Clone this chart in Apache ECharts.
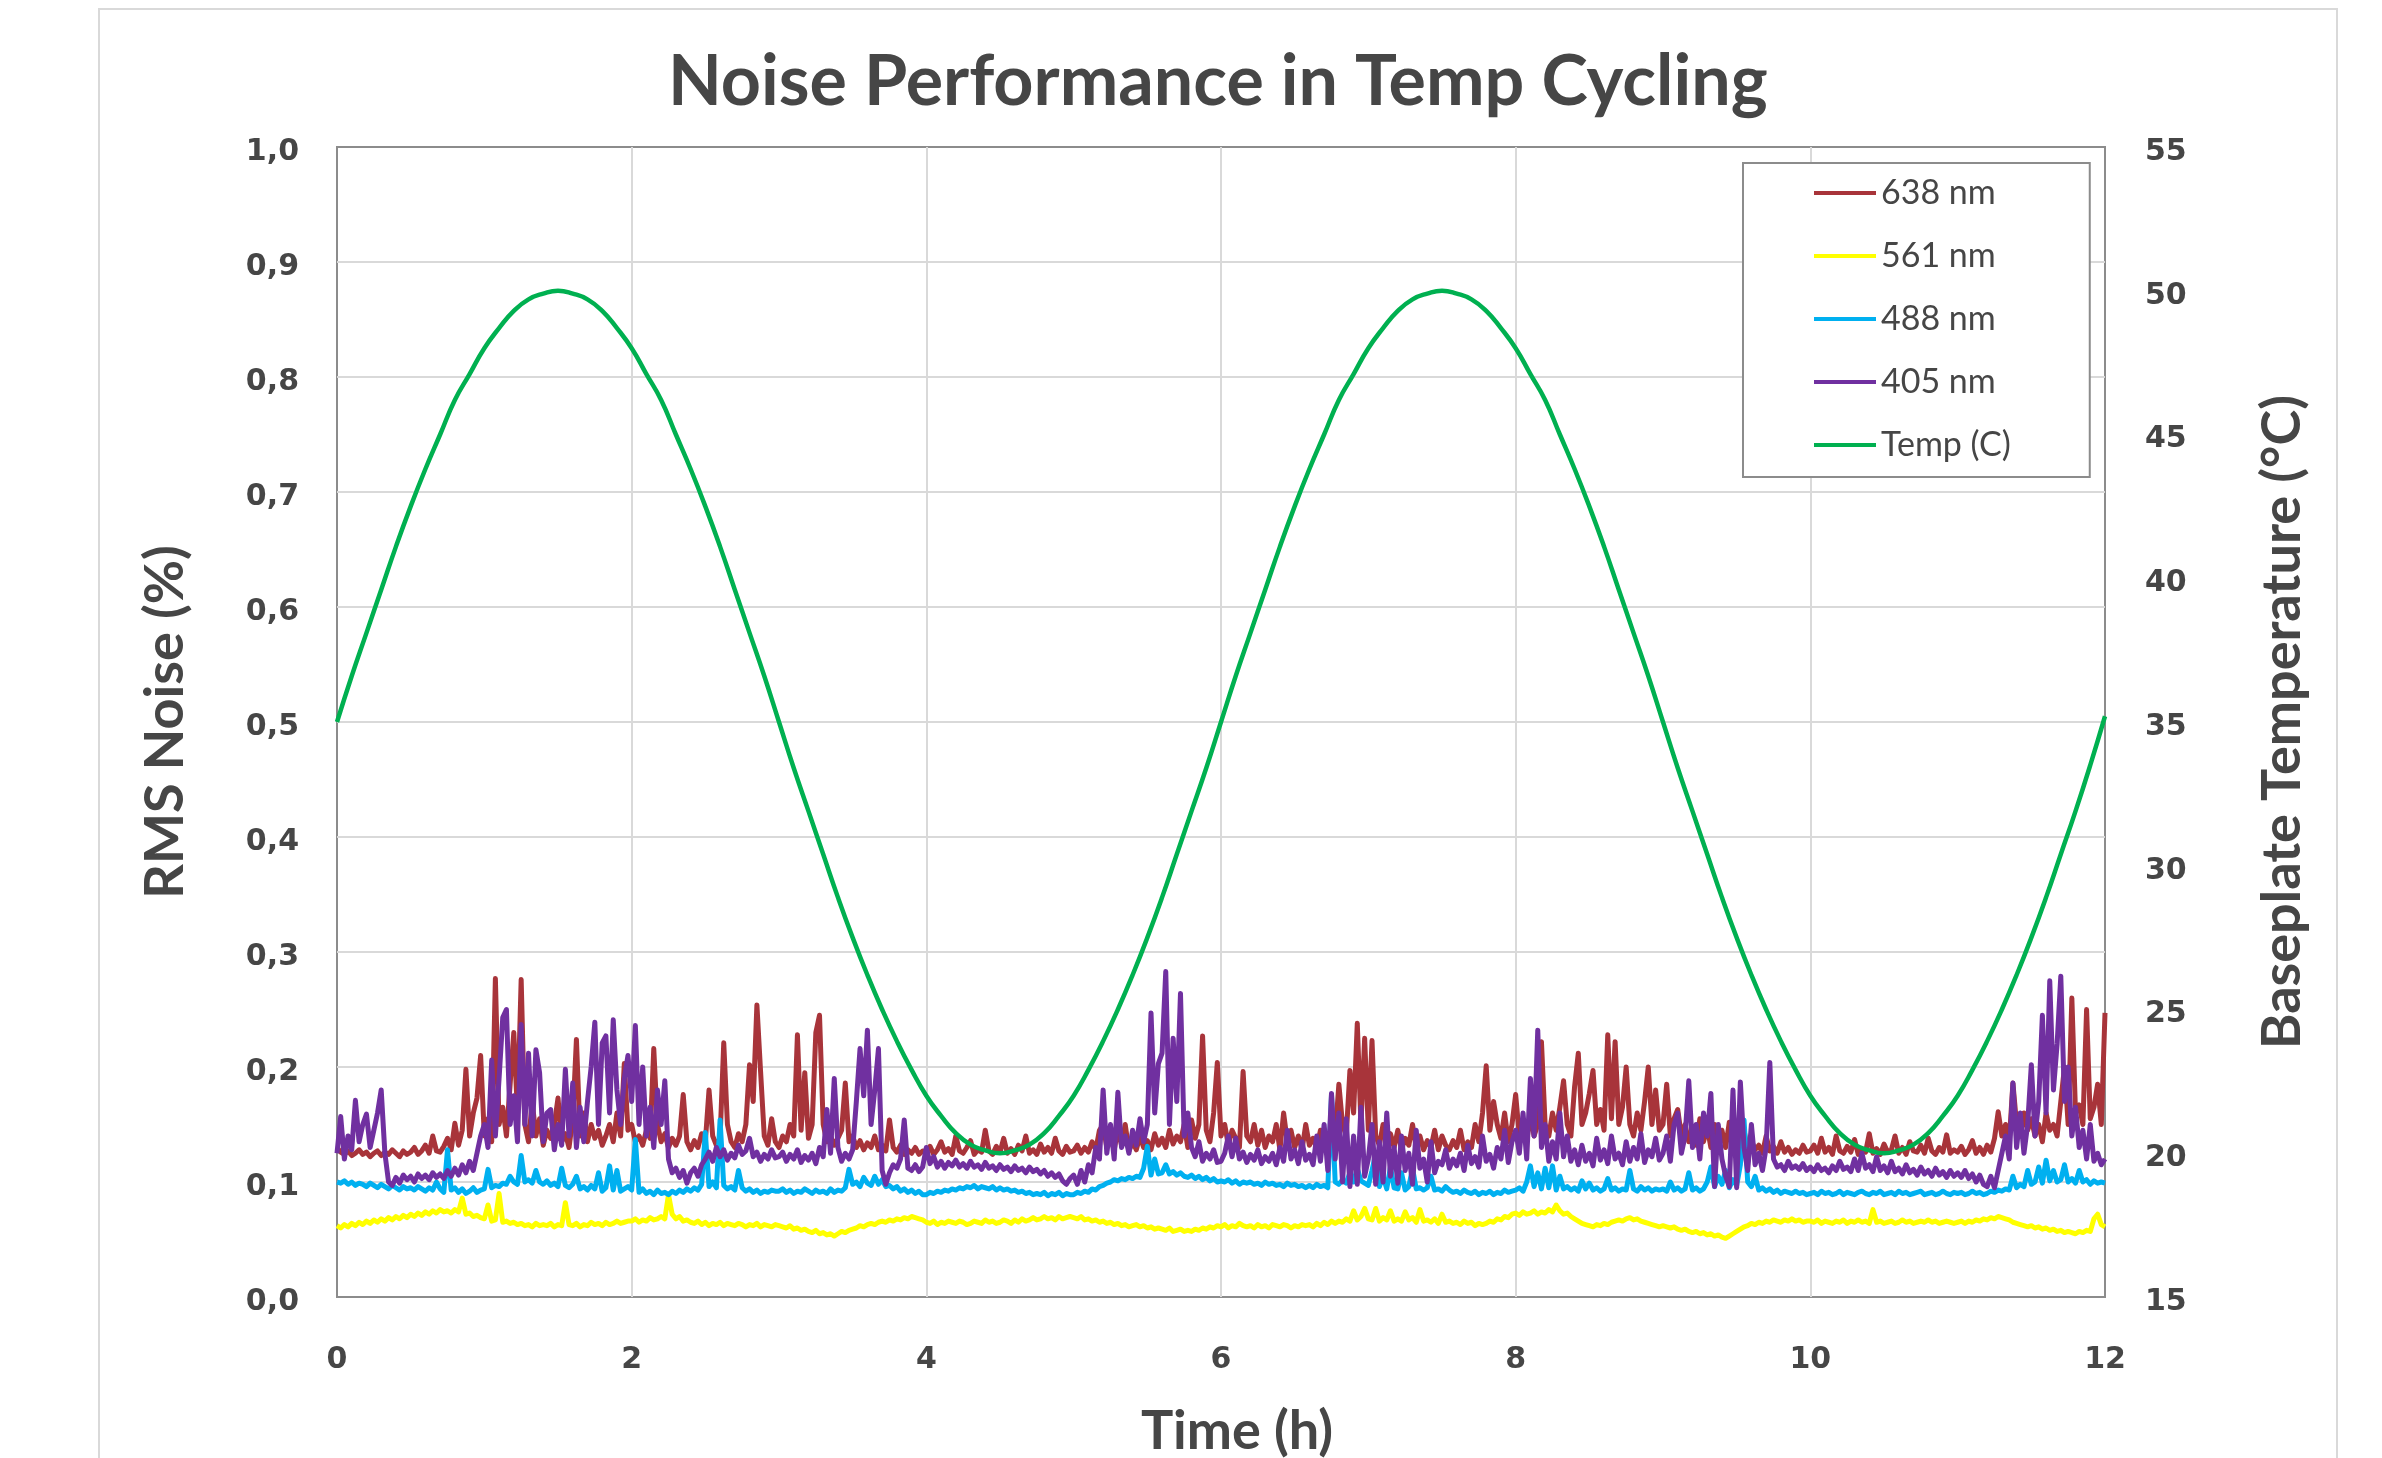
<!DOCTYPE html>
<html><head><meta charset="utf-8">
<script src="https://cdn.jsdelivr.net/npm/echarts@6/dist/echarts.min.js"></script>
<style>html,body{margin:0;padding:0;background:#fff}#c{width:2382px;height:1458px}</style>
</head><body><div id="c"></div><script>
// ---------- DATA ----------
const seriesNames = ['638 nm', '561 nm', '488 nm', '405 nm', 'Temp (C)'];
const noiseStepH = 0.025;   // sample spacing of noise traces (hours)
const tempStepH = 0.1;      // sample spacing of temperature trace (hours)
const xTickLabels = ['0', '2', '4', '6', '8', '10', '12'];
const leftTickLabels = ['0,0','0,1','0,2','0,3','0,4','0,5','0,6','0,7','0,8','0,9','1,0'];
const rightTickLabels = ['15','20','25','30','35','40','45','50','55'];

const noise638 = [
.130,.126,.124,.127,.123,.125,.128,.124,.126,.122,.125,.127,.123,.126,.124,.128,.125,.122,.127,.124,.126,.130,.124,.127,.132,.125,.140,.127,.126,.131,.138,.128,.151,.132,.145,.198,.140,.160,.173,.210,
.140,.155,.135,.277,.150,.165,.140,.185,.230,.160,.276,.150,.135,.170,.140,.155,.132,.145,.138,.150,.173,.135,.142,.130,.155,.224,.140,.160,.135,.150,.138,.145,.132,.140,.150,.135,.160,.140,.203,.145,
.150,.135,.140,.132,.145,.138,.216,.150,.135,.142,.130,.138,.132,.140,.176,.135,.128,.136,.130,.142,.135,.180,.140,.132,.138,.221,.150,.135,.130,.142,.135,.150,.202,.170,.254,.196,.140,.132,.155,.135,
.130,.140,.135,.150,.140,.228,.145,.195,.138,.150,.230,.245,.150,.135,.140,.132,.138,.145,.186,.135,.140,.130,.136,.128,.134,.130,.140,.128,.132,.127,.154,.130,.126,.132,.124,.128,.125,.130,.124,.127,
.126,.131,.124,.128,.135,.126,.129,.124,.140,.127,.125,.130,.136,.124,.128,.126,.145,.127,.124,.131,.126,.138,.125,.129,.124,.132,.127,.140,.125,.128,.124,.133,.126,.130,.125,.138,.127,.124,.131,.126,
.127,.132,.125,.130,.126,.135,.128,.145,.150,.130,.138,.128,.146,.132,.150,.127,.135,.128,.140,.130,.136,.128,.142,.132,.138,.130,.145,.133,.140,.135,.150,.130,.154,.138,.150,.227,.145,.135,.160,.204,
.140,.150,.132,.145,.138,.130,.196,.140,.135,.150,.132,.145,.130,.140,.135,.150,.128,.160,.135,.145,.130,.140,.128,.150,.132,.138,.130,.145,.135,.128,.150,.140,.185,.150,.140,.197,.160,.238,.150,.225,
.145,.223,.140,.132,.150,.135,.142,.130,.145,.128,.138,.132,.150,.130,.140,.128,.136,.130,.145,.128,.140,.132,.128,.136,.130,.145,.128,.135,.130,.150,.135,.160,.201,.145,.170,.150,.138,.160,.135,.150,
.176,.140,.150,.135,.160,.140,.150,.222,.150,.140,.160,.145,.165,.188,.150,.140,.183,.212,.150,.160,.177,.197,.150,.163,.145,.228,.155,.222,.150,.165,.200,.150,.140,.160,.145,.170,.200,.150,.180,.145,
.150,.185,.140,.155,.163,.140,.150,.135,.145,.132,.155,.135,.148,.130,.150,.135,.145,.130,.152,.128,.140,.130,.145,.127,.136,.128,.132,.125,.140,.127,.131,.125,.135,.126,.130,.124,.128,.125,.132,.126,
.127,.132,.125,.138,.126,.130,.124,.140,.127,.125,.131,.126,.137,.124,.128,.126,.142,.125,.129,.124,.133,.126,.128,.140,.125,.130,.124,.135,.127,.126,.132,.125,.138,.127,.124,.130,.126,.141,.125,.128,
.126,.131,.124,.128,.136,.125,.130,.124,.132,.126,.138,.161,.140,.150,.135,.186,.150,.140,.160,.145,.155,.140,.150,.135,.160,.145,.150,.140,.170,.200,.150,.260,.160,.167,.150,.250,.155,.165,.185,.150,
.247];

const noise561 = [
.062,.060,.063,.061,.064,.062,.065,.063,.066,.064,.067,.065,.068,.066,.069,.067,.070,.068,.071,.069,.072,.070,.073,.071,.074,.072,.075,.073,.076,.074,.075,.073,.076,.074,.086,.072,.073,.070,.071,.069,
.068,.080,.066,.067,.090,.065,.066,.064,.065,.063,.064,.062,.063,.061,.064,.062,.063,.062,.064,.061,.063,.062,.082,.063,.062,.064,.061,.063,.062,.065,.063,.064,.062,.065,.063,.064,.066,.064,.065,.066,
.066,.068,.065,.067,.066,.069,.067,.068,.070,.068,.089,.072,.068,.070,.066,.067,.065,.064,.066,.063,.065,.062,.064,.063,.065,.062,.064,.063,.062,.064,.063,.061,.063,.062,.064,.061,.063,.062,.061,.063,
.062,.061,.060,.062,.059,.060,.058,.059,.057,.056,.058,.055,.056,.054,.055,.053,.055,.057,.056,.058,.059,.060,.062,.061,.063,.064,.063,.065,.066,.065,.067,.066,.068,.067,.069,.068,.070,.069,.068,.067,
.065,.064,.066,.063,.065,.064,.066,.065,.064,.066,.065,.063,.064,.066,.065,.064,.067,.065,.066,.064,.065,.067,.066,.064,.067,.065,.068,.066,.067,.069,.067,.068,.070,.068,.069,.067,.070,.068,.069,.070,
.069,.068,.070,.067,.068,.066,.067,.065,.066,.064,.065,.063,.064,.062,.063,.061,.062,.063,.061,.062,.060,.061,.059,.060,.059,.058,.060,.057,.058,.059,.057,.058,.057,.059,.058,.060,.059,.061,.060,.062,
.061,.063,.060,.062,.061,.064,.062,.061,.062,.060,.063,.061,.062,.060,.063,.062,.061,.063,.062,.060,.062,.061,.063,.062,.063,.061,.064,.062,.065,.063,.066,.064,.066,.065,.068,.066,.075,.067,.070,.077,
.068,.067,.077,.066,.069,.067,.075,.066,.068,.066,.074,.067,.069,.065,.076,.066,.067,.065,.068,.064,.072,.065,.066,.064,.065,.063,.066,.064,.065,.062,.064,.063,.064,.066,.065,.068,.067,.070,.069,.072,
.073,.071,.074,.072,.073,.075,.072,.074,.073,.076,.074,.080,.075,.072,.073,.070,.068,.066,.064,.063,.062,.061,.063,.062,.064,.063,.065,.066,.067,.066,.068,.069,.067,.068,.066,.065,.064,.063,.062,.061,
.062,.061,.060,.061,.059,.058,.059,.057,.056,.057,.055,.056,.054,.055,.053,.054,.052,.051,.053,.055,.057,.059,.061,.062,.064,.063,.065,.064,.066,.065,.067,.066,.065,.067,.066,.068,.066,.067,.065,.066,
.066,.065,.067,.064,.066,.065,.064,.066,.065,.067,.064,.066,.065,.067,.065,.066,.064,.076,.065,.066,.064,.065,.066,.064,.065,.067,.065,.066,.064,.065,.066,.065,.067,.065,.066,.064,.065,.066,.065,.064,
.065,.066,.064,.066,.065,.067,.066,.068,.067,.069,.068,.070,.069,.068,.067,.065,.064,.063,.062,.061,.062,.060,.061,.059,.060,.058,.059,.057,.058,.056,.057,.056,.055,.057,.056,.058,.057,.068,.072,.063,
.061];

const noise488 = [
.100,.099,.101,.098,.100,.097,.099,.098,.096,.099,.097,.095,.098,.096,.094,.097,.095,.093,.096,.094,.095,.093,.096,.094,.092,.095,.093,.100,.094,.091,.128,.093,.095,.091,.094,.090,.092,.095,.091,.093,
.094,.111,.095,.097,.096,.099,.098,.105,.100,.098,.123,.100,.102,.099,.110,.100,.098,.101,.097,.099,.096,.112,.097,.095,.098,.105,.094,.096,.093,.097,.094,.108,.092,.095,.114,.093,.110,.092,.094,.096,
.093,.137,.091,.094,.090,.092,.089,.093,.090,.091,.089,.092,.090,.093,.091,.094,.092,.095,.093,.098,.143,.096,.100,.095,.154,.097,.094,.096,.093,.110,.095,.092,.094,.091,.093,.090,.092,.091,.093,.092,
.092,.094,.091,.093,.090,.092,.091,.094,.092,.090,.093,.091,.092,.090,.094,.091,.093,.092,.095,.111,.098,.100,.096,.104,.099,.097,.105,.098,.102,.096,.097,.094,.096,.092,.094,.091,.093,.090,.092,.089,
.089,.091,.090,.092,.091,.093,.092,.094,.093,.095,.094,.096,.095,.097,.094,.096,.095,.094,.096,.093,.095,.093,.094,.092,.093,.091,.092,.090,.091,.089,.090,.089,.091,.088,.090,.089,.091,.088,.090,.089,
.089,.091,.090,.092,.091,.094,.093,.096,.097,.099,.100,.102,.101,.103,.102,.104,.103,.105,.104,.112,.131,.106,.120,.107,.108,.115,.107,.109,.106,.108,.105,.104,.106,.103,.105,.102,.104,.101,.103,.100,
.101,.100,.102,.099,.101,.098,.100,.099,.100,.098,.099,.097,.100,.098,.099,.097,.098,.096,.099,.097,.098,.096,.097,.095,.097,.095,.098,.096,.097,.095,.176,.100,.098,.102,.099,.108,.100,.112,.101,.099,
.097,.110,.125,.096,.105,.094,.113,.095,.094,.108,.093,.096,.112,.094,.095,.093,.095,.105,.093,.094,.092,.096,.093,.091,.092,.090,.093,.091,.090,.092,.089,.091,.090,.092,.089,.091,.090,.093,.091,.092,
.093,.095,.092,.100,.114,.096,.108,.094,.112,.095,.114,.093,.105,.094,.096,.093,.095,.092,.101,.094,.099,.093,.095,.092,.094,.103,.093,.095,.092,.094,.093,.110,.094,.092,.096,.093,.095,.092,.094,.093,
.094,.092,.100,.093,.095,.092,.094,.108,.093,.095,.092,.094,.100,.113,.096,.105,.098,.110,.095,.102,.097,.115,.154,.100,.096,.105,.093,.095,.092,.094,.091,.093,.090,.092,.091,.090,.092,.090,.091,.089,
.090,.091,.089,.092,.090,.091,.089,.090,.092,.089,.091,.090,.089,.091,.092,.090,.089,.091,.090,.092,.089,.090,.091,.089,.092,.090,.091,.089,.090,.091,.092,.089,.090,.091,.089,.090,.092,.090,.089,.091,
.090,.091,.089,.090,.092,.090,.091,.089,.090,.092,.091,.093,.092,.094,.093,.105,.095,.098,.096,.110,.098,.100,.113,.099,.119,.101,.110,.100,.102,.115,.100,.103,.099,.110,.100,.102,.098,.101,.099,.100,
.099];

const noise405 = [
.125,.157,.120,.140,.128,.171,.135,.150,.159,.130,.145,.160,.180,.125,.100,.097,.104,.099,.106,.102,.105,.100,.107,.103,.106,.102,.108,.104,.107,.103,.110,.105,.112,.106,.115,.108,.118,.110,.125,.140,
.150,.130,.206,.140,.190,.243,.250,.150,.175,.135,.237,.150,.212,.140,.215,.195,.135,.160,.163,.128,.150,.132,.198,.140,.186,.130,.165,.135,.170,.200,.239,.150,.221,.227,.160,.241,.180,.150,.190,.210,
.170,.236,.150,.200,.140,.165,.130,.180,.150,.188,.120,.108,.112,.104,.110,.099,.108,.112,.105,.115,.120,.126,.118,.130,.122,.128,.119,.125,.121,.132,.124,.127,.138,.122,.126,.118,.124,.120,.128,.121,
.122,.126,.118,.124,.120,.128,.117,.123,.119,.125,.116,.130,.122,.163,.125,.190,.130,.118,.125,.120,.128,.170,.216,.175,.232,.150,.180,.216,.110,.098,.108,.115,.112,.120,.154,.112,.110,.115,.109,.113,
.130,.116,.122,.113,.118,.112,.117,.114,.119,.113,.116,.112,.118,.113,.115,.111,.117,.112,.114,.110,.115,.111,.113,.109,.114,.110,.112,.108,.113,.109,.111,.107,.110,.105,.108,.104,.107,.101,.098,.103,
.106,.098,.110,.100,.115,.108,.130,.120,.180,.125,.150,.120,.178,.130,.140,.125,.145,.132,.155,.135,.150,.247,.160,.203,.212,.283,.150,.225,.170,.264,.140,.160,.130,.122,.135,.118,.125,.120,.128,.117,
.118,.125,.140,.122,.138,.120,.126,.117,.124,.119,.128,.116,.122,.118,.125,.115,.130,.118,.145,.120,.128,.116,.135,.119,.124,.115,.140,.118,.150,.110,.177,.120,.160,.100,.155,.096,.140,.098,.165,.105,
.120,.150,.098,.135,.100,.160,.105,.130,.099,.140,.110,.125,.098,.145,.112,.120,.100,.135,.108,.118,.115,.128,.112,.120,.114,.125,.110,.132,.116,.122,.113,.140,.118,.124,.112,.130,.120,.145,.117,.135,
.145,.125,.160,.120,.190,.140,.232,.130,.150,.118,.135,.120,.160,.122,.140,.118,.128,.115,.132,.118,.125,.114,.138,.119,.128,.116,.140,.120,.125,.115,.135,.118,.130,.120,.142,.117,.128,.122,.138,.119,
.125,.140,.118,.150,.160,.125,.140,.188,.130,.150,.120,.160,.140,.177,.096,.150,.120,.105,.096,.180,.095,.187,.130,.110,.150,.115,.125,.110,.130,.204,.120,.113,.115,.110,.118,.112,.114,.111,.116,.110,
.113,.109,.115,.110,.112,.108,.114,.110,.118,.111,.113,.109,.120,.110,.125,.112,.115,.109,.122,.110,.114,.108,.118,.109,.112,.107,.115,.108,.111,.106,.113,.107,.110,.105,.112,.106,.109,.104,.110,.105,
.108,.104,.110,.103,.107,.100,.106,.098,.096,.105,.095,.110,.125,.140,.120,.186,.130,.160,.125,.150,.202,.140,.170,.245,.160,.275,.180,.220,.279,.170,.200,.140,.165,.130,.145,.120,.150,.118,.125,.115,
.120];

const tempC = [
35.0,36.6,38.1,39.6,41.1,42.5,43.8,45.0,46.2,47.1,48.0,48.7,49.3,49.7,49.9,50.0,49.9,49.7,49.3,48.7,
48.0,47.1,46.2,45.0,43.8,42.5,41.1,39.6,38.1,36.6,35.0,33.4,31.9,30.4,28.9,27.5,26.2,25.0,23.9,22.9,
22.0,21.3,20.7,20.3,20.1,20.0,20.1,20.3,20.7,21.3,22.0,22.9,23.9,25.0,26.2,27.5,28.9,30.4,31.9,33.4,
35.0,36.6,38.1,39.6,41.1,42.5,43.8,45.0,46.2,47.1,48.0,48.7,49.3,49.7,49.9,50.0,49.9,49.7,49.3,48.7,
48.0,47.1,46.2,45.0,43.8,42.5,41.1,39.6,38.1,36.6,35.0,33.4,31.9,30.4,28.9,27.5,26.2,25.0,23.9,22.9,
22.0,21.3,20.7,20.3,20.1,20.0,20.1,20.3,20.7,21.3,22.0,22.9,23.9,25.0,26.2,27.5,28.9,30.4,31.9,33.5,
35.2];

// ---------- CHART ----------
const toPairs = (arr, step) => arr.map((v, i) => [+(i * step).toFixed(3), v]);
const TXT = '#464646';
const colors = ['#A8343A', '#FFFF00', '#00B0F0', '#7030A0', '#00B050'];
const noiseSets = [noise638, noise561, noise488, noise405];

const chart = echarts.init(document.getElementById('c'), null, {renderer: 'canvas', width: 2382, height: 1458});

const series = noiseSets.map((arr, i) => ({
  name: seriesNames[i], type: 'line', yAxisIndex: 0,
  data: toPairs(arr, noiseStepH),
  symbol: 'none', showSymbol: false, sampling: null, silent: true,
  color: colors[i], lineStyle: {width: 5, color: colors[i], join: 'round'}
}));
series.push({
  name: seriesNames[4], type: 'line', yAxisIndex: 1,
  data: toPairs(tempC, tempStepH), smooth: true,
  symbol: 'none', showSymbol: false, silent: true,
  color: colors[4], lineStyle: {width: 4.5, color: colors[4]}
});

const axisLabelBase = {fontFamily: 'DejaVu Sans', fontWeight: 'bold', fontSize: 30, color: TXT};
const axisNameBase = {fontFamily: 'Lato', fontWeight: 'bold', fontSize: 54, color: TXT};
const gridLine = {show: true, showMinLine: false, showMaxLine: false, lineStyle: {color: '#d9d9d9', width: 2}};

chart.setOption({
  animation: false,
  backgroundColor: '#ffffff',
  graphic: [{
    type: 'rect', silent: true, z: -10,
    shape: {x: 99, y: 9, width: 2238, height: 1500},
    style: {fill: 'none', stroke: '#d9d9d9', lineWidth: 2}
  }],
  title: {
    text: 'Noise Performance in Temp Cycling', left: 668, top: 47, padding: 0,
    textStyle: {fontFamily: 'Lato', fontWeight: 'bold', fontSize: 70, color: TXT}
  },
  legend: {
    orient: 'vertical', left: 1743, top: 163, padding: [10, 79, 12, 71],
    itemGap: 23, itemWidth: 62, itemHeight: 4, icon: 'rect',
    borderColor: '#8c8c8c', borderWidth: 2, backgroundColor: '#ffffff',
    textStyle: {fontFamily: 'Lato', fontSize: 34, color: TXT, lineHeight: 40},
    data: seriesNames
  },
  grid: {
    left: 337, right: 277, top: 147, bottom: 161, containLabel: false, outerBoundsMode: 'none',
    show: true, borderColor: '#8c8c8c', borderWidth: 2, backgroundColor: 'transparent'
  },
  xAxis: {
    type: 'value', min: 0, max: 12, interval: 2,
    name: 'Time (h)', nameLocation: 'middle', nameGap: 108,
    nameTextStyle: Object.assign({padding: [0, 0, 0, 32]}, axisNameBase),
    axisLine: {show: false}, axisTick: {show: false},
    axisLabel: Object.assign({margin: 48, formatter: v => xTickLabels[Math.round(v / 2)]}, axisLabelBase),
    splitLine: gridLine
  },
  yAxis: [{
    type: 'value', position: 'left', min: 0, max: 1, interval: 0.1,
    name: 'RMS Noise (%)', nameLocation: 'middle', nameGap: 144,
    nameTextStyle: axisNameBase,
    axisLine: {show: false}, axisTick: {show: false},
    axisLabel: Object.assign({margin: 38, verticalAlign: 'top', lineHeight: 10, formatter: v => leftTickLabels[Math.round(v * 10)]}, axisLabelBase),
    splitLine: gridLine
  }, {
    type: 'value', position: 'right', min: 15, max: 55, interval: 5,
    name: 'Baseplate Temperature (°C)', nameLocation: 'middle', nameGap: 151,
    nameTextStyle: axisNameBase,
    axisLine: {show: false}, axisTick: {show: false},
    axisLabel: Object.assign({margin: 40, verticalAlign: 'top', lineHeight: 10, formatter: v => rightTickLabels[Math.round((v - 15) / 5)]}, axisLabelBase),
    splitLine: {show: false}
  }],
  series: series
});
</script></body></html>
